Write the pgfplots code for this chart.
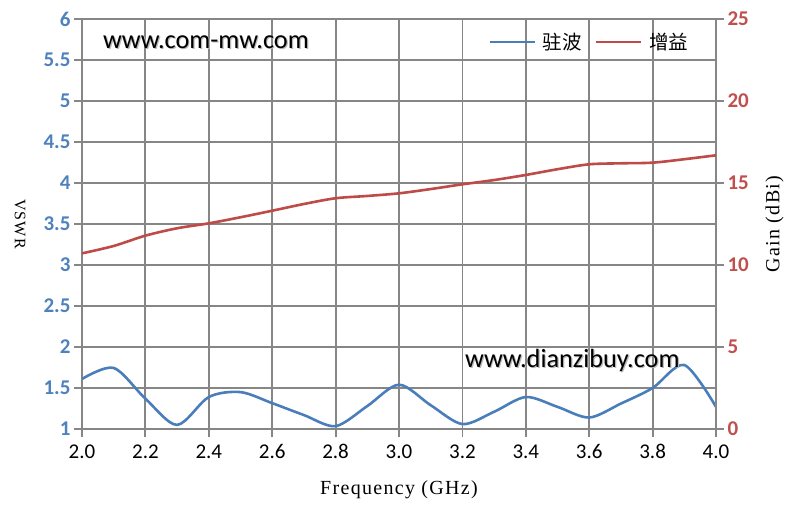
\documentclass[border=0pt]{standalone}
\usepackage{pgfplots}
\pgfplotsset{compat=1.18}
\usepackage{fontspec}
\setmainfont{Carlito}
\newfontfamily\cjk{Noto Sans CJK SC}
\newfontfamily\titlefont[LetterSpace=6.6]{Liberation Serif}
\definecolor{vblue}{HTML}{4A7EBB}
\definecolor{gred}{HTML}{BE4B48}
\definecolor{tblue}{HTML}{4F81BD}
\definecolor{tred}{HTML}{C0504D}
\definecolor{gridgray}{HTML}{868686}

\pgfplotstableread{
f v
2.0 1.61
2.1 1.745
2.2 1.37
2.3 1.05
2.4 1.39
2.5 1.45
2.6 1.315
2.7 1.17
2.8 1.035
2.9 1.28
3.0 1.54
3.1 1.29
3.2 1.06
3.3 1.21
3.4 1.39
3.5 1.27
3.6 1.14
3.7 1.31
3.8 1.50
3.9 1.78
4.0 1.27
}\vswr

\pgfplotstableread{
f g
2.0 10.71
2.1 11.16
2.2 11.79
2.3 12.24
2.4 12.54
2.5 12.91
2.6 13.31
2.7 13.72
2.8 14.07
2.9 14.21
3.0 14.37
3.1 14.63
3.2 14.92
3.3 15.18
3.4 15.49
3.5 15.84
3.6 16.14
3.7 16.20
3.8 16.24
3.9 16.45
4.0 16.69
}\gain

\begin{document}
\begin{tikzpicture}
\useasboundingbox (-82pt,-85pt) rectangle (712pt,429pt);
\begin{axis}[
  scale only axis, width=634pt, height=410pt,
  xmin=2, xmax=4, ymin=1, ymax=6,
  xtick={2,2.2,2.4,2.6,2.8,3,3.2,3.4,3.6,3.8,4},
  xticklabels={2.0,2.2,2.4,2.6,2.8,3.0,3.2,3.4,3.6,3.8,4.0},
  ytick={1,1.5,2,2.5,3,3.5,4,4.5,5,5.5,6},
  yticklabels={1,1.5,2,2.5,3,3.5,4,4.5,5,5.5,6},
  grid=major, grid style={gridgray, line width=1.8pt},
  axis line style={gridgray, line width=1.8pt},
  tick style={gridgray, line width=1.8pt},
  tick align=outside, major tick length=8pt,
  xtick pos=bottom, ytick pos=left,
  x tick label style={font=\fontsize{21}{21}\selectfont, text=black, yshift=-4pt},
  y tick label style={font=\bfseries\fontsize{21}{21}\selectfont, text=tblue},
  xlabel={Frequency (GHz)},
  xlabel style={font=\titlefont\fontsize{20}{20}\selectfont, at={(axis description cs:0.5,-0.1488)}, anchor=center},
  ylabel={VSWR},
  ylabel style={font=\titlefont\fontsize{16}{16}\selectfont, at={(axis description cs:-0.0978,0.5)}, anchor=center, rotate=180},
]
\addplot[vblue, line width=2.6pt, smooth, tension=0.5] table[x=f, y=v] {\vswr};
\node[anchor=base, gray!55, font=\fontsize{26.3}{26.3}\selectfont] at ([xshift=1.2pt,yshift=-1.2pt]axis cs:2.391,5.646) {www.com-mw.com};
\node[anchor=base, black, font=\fontsize{26.3}{26.3}\selectfont] at (axis cs:2.391,5.646) {www.com-mw.com};
\node[anchor=base, gray!55, font=\fontsize{26.3}{26.3}\selectfont] at ([xshift=1.2pt,yshift=-1.2pt]axis cs:3.547,1.756) {www.dianzibuy.com};
\node[anchor=base, black, font=\fontsize{26.3}{26.3}\selectfont] at (axis cs:3.547,1.756) {www.dianzibuy.com};
\end{axis}
\begin{axis}[
  scale only axis, width=634pt, height=410pt,
  xmin=2, xmax=4, ymin=0, ymax=25,
  axis x line=none, axis y line*=right,
  ytick={0,5,10,15,20,25},
  yticklabels={0,5,10,15,20,25},
  axis line style={gridgray, line width=1.8pt},
  tick style={gridgray, line width=1.8pt},
  tick align=outside, major tick length=8pt,
  y tick label style={font=\bfseries\fontsize{21}{21}\selectfont, text=tred},
  ylabel={Gain (dBi)},
  ylabel style={font=\titlefont\fontsize{20}{20}\selectfont, at={(axis description cs:1.0923,0.5)}, anchor=center},
  legend columns=2,
  legend style={draw=none, fill=none, at={(axis description cs:0.6404,0.944)}, anchor=west,
    font=\cjk\fontsize{19.5}{19.5}\selectfont, inner sep=0pt, nodes={inner sep=0pt},
    /tikz/every odd column/.append style={column sep=7pt},
    /tikz/every even column/.append style={column sep=13pt}},
  legend image code/.code={\draw[#1] (0pt,0pt) -- (45pt,0pt);},
]
\addlegendimage{vblue, line width=2.6pt}
\addlegendentry{驻波}
\addplot[gred, line width=2.6pt, smooth, tension=0.5] table[x=f, y=g] {\gain};
\addlegendentry{增益}
\end{axis}
\end{tikzpicture}
\end{document}
